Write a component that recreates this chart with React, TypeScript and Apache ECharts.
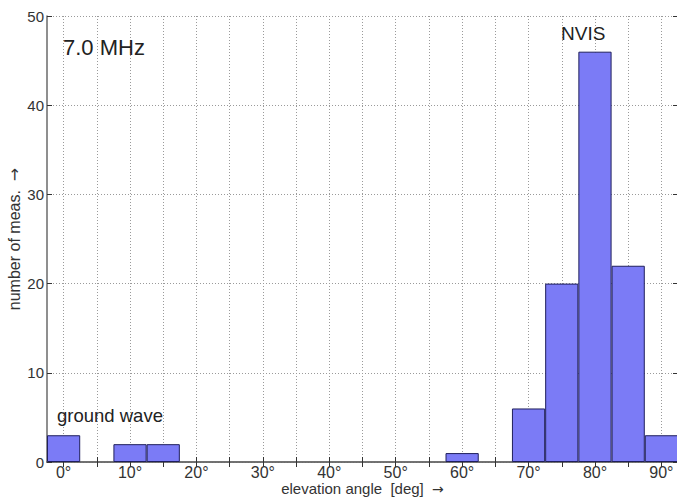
import React, { useEffect, useRef } from "react";
import * as echarts from "echarts";

const binCenters = ["0", "5", "10", "15", "20", "25", "30", "35", "40", "45", "50", "55", "60", "65", "70", "75", "80", "85", "90"];
const counts = [3, 0, 2, 2, 0, 0, 0, 0, 0, 0, 0, 0, 1, 0, 6, 20, 46, 22, 3];
const yTicks = [0, 10, 20, 30, 40, 50];
const annotations = [
  { text: "7.0 MHz", x: 63, y: 36, size: 22 },
  { text: "NVIS", x: 561, y: 24, size: 19 },
  { text: "ground wave", x: 57, y: 406, size: 18.5 },
];

const FONT = "Liberation Sans, Arial, sans-serif";
const ARROW = { fontFamily: "DejaVu Sans", fontSize: 14, color: "#333" };

export default function App() {
  const ref = useRef<HTMLDivElement>(null);
  useEffect(() => {
    const chart = echarts.init(ref.current!, null, { renderer: "svg" });
    const axisLineStyle = { color: "#6a6a6a", width: 1.5 };
    chart.setOption({
      animation: false,
      backgroundColor: "#ffffff",
      grid: { left: 47, right: -1, top: 16, bottom: 38, outerBoundsMode: "none", containLabel: false },
      xAxis: [
        {
          type: "category",
          data: binCenters,
          position: "bottom",
          boundaryGap: true,
          axisLine: { show: true, lineStyle: axisLineStyle },
          axisTick: { show: true, inside: true, interval: 0, alignWithLabel: true, length: 5, lineStyle: { color: "#333", width: 1 } },
          axisLabel: { interval: 1, formatter: (v: string) => v + "°", color: "#333", fontSize: 16, fontFamily: FONT, margin: 2 },
          splitLine: { show: true, interval: 0, alignWithLabel: true, lineStyle: { color: "#9a9a9a", type: [1, 2], width: 1 } },
          name: "elevation angle  [deg]  {a|→}",
          nameLocation: "middle",
          nameGap: 19,
          nameMoveOverlap: false,
          nameTextStyle: { color: "#333", fontSize: 15, fontFamily: FONT, rich: { a: ARROW } },
        },
        {
          type: "category",
          data: binCenters,
          position: "top",
          boundaryGap: true,
          axisLine: { show: true, lineStyle: axisLineStyle },
          axisTick: { show: true, inside: true, interval: 0, alignWithLabel: true, length: 5, lineStyle: { color: "#333", width: 1 } },
          axisLabel: { show: false },
          splitLine: { show: false },
        },
      ],
      yAxis: [
        {
          type: "value",
          min: 0,
          max: 50,
          interval: 10,
          position: "left",
          axisLine: { show: true, lineStyle: axisLineStyle },
          axisTick: { show: true, inside: true, length: 5, lineStyle: { color: "#333" } },
          axisLabel: { color: "#333", fontSize: 15, fontFamily: FONT, margin: 3, customValues: yTicks },
          splitLine: { show: true, lineStyle: { color: "#9a9a9a", type: [1, 2], width: 1 } },
          name: "number of meas.  {a|→}",
          nameLocation: "middle",
          nameGap: 25,
          nameMoveOverlap: false,
          nameTextStyle: { color: "#333", fontSize: 16, fontFamily: FONT, rich: { a: { ...ARROW, fontSize: 16 } } },
        },
        {
          type: "value",
          min: 0,
          max: 50,
          interval: 10,
          position: "right",
          axisLine: { show: true, lineStyle: axisLineStyle },
          axisTick: { show: true, inside: true, length: 5, lineStyle: { color: "#333" } },
          axisLabel: { show: false },
          splitLine: { show: false },
        },
      ],
      series: [
        {
          type: "bar",
          xAxisIndex: 0,
          yAxisIndex: 0,
          data: counts.map((c) => (c > 0 ? c : "-")),
          barCategoryGap: "0%",
          itemStyle: { color: "#7b7bf6", borderColor: "#1f1f5c", borderWidth: 1 },
          z: 3,
        },
      ],
      graphic: annotations.map((a) => ({
        type: "text",
        x: a.x,
        y: a.y,
        z: 10,
        style: { text: a.text, fontSize: a.size, fontFamily: FONT, fill: "#222", textVerticalAlign: "top" },
      })),
    });
    return () => chart.dispose();
  }, []);
  return <div ref={ref} style={{ position: "fixed", left: 0, top: 0, width: 677, height: 500 }} />;
}
